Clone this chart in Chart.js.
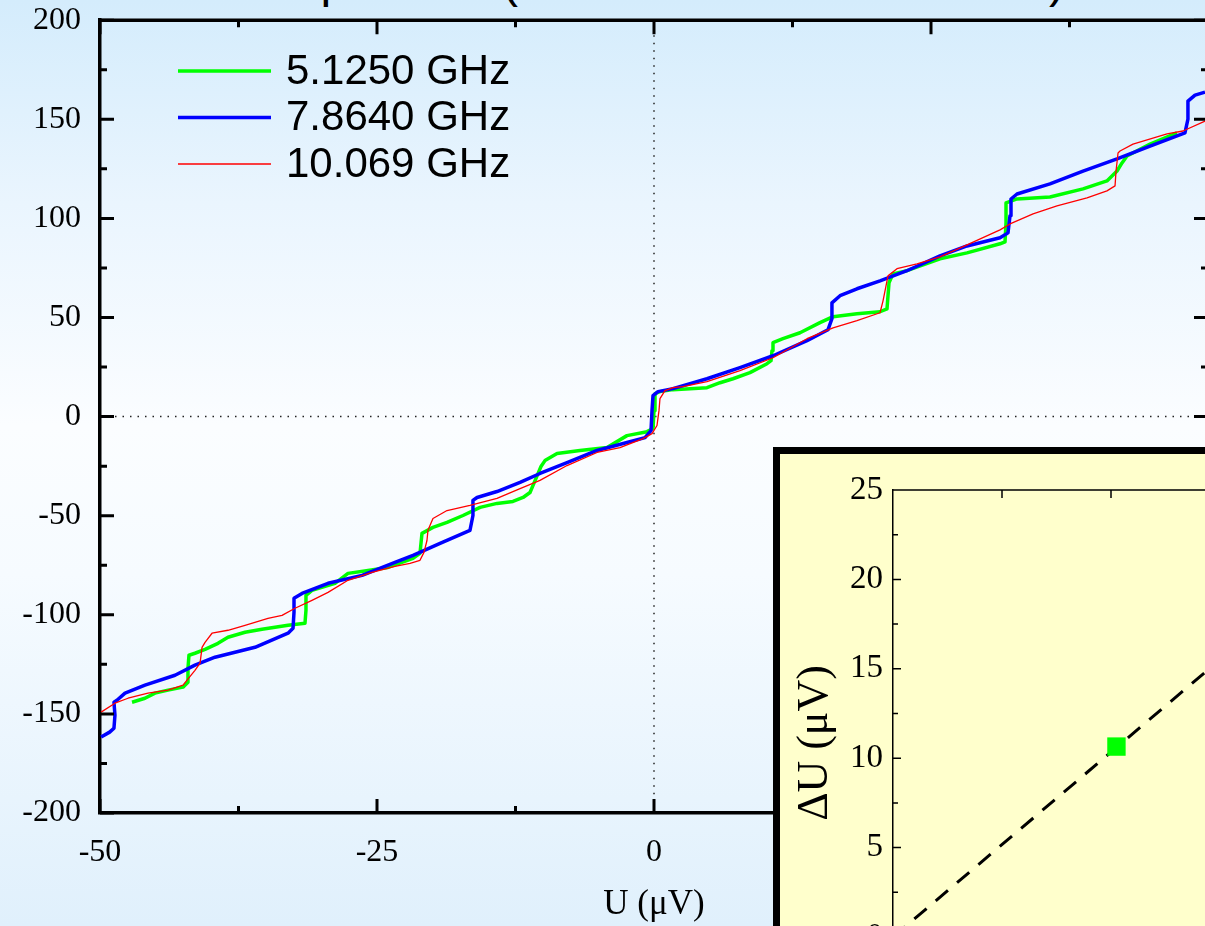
<!DOCTYPE html>
<html>
<head>
<title>Shapiro steps</title>
<script src="https://cdn.jsdelivr.net/npm/chart.js"></script>
<style>
  html, body { margin: 0; padding: 0; }
  body {
    width: 1205px; height: 926px; overflow: hidden; position: relative;
    background: linear-gradient(to bottom, #d4ecfc 0%, #eaf5fe 22%, #fbfdff 46%, #f6fbff 62%, #e0f0fc 100%);
  }
  #main { position: absolute; left: 0; top: -18px; }
  #title {
    position: absolute; right: 140px; top: -43px;
    font: 48px "Liberation Sans", Arial, sans-serif; line-height: 48px;
    white-space: nowrap; color: #000;
  }
  #insetBox {
    position: absolute; left: 773px; top: 447px; width: 700px; height: 600px;
    border: 7px solid #000; background: #ffffcc;
  }
</style>
</head>
<body>
<div id="title">Dipendenza dalla frequenza f (Emissione 5 and 10 GHz)</div>
<canvas id="main" width="1244" height="944"></canvas>
<div id="insetBox"><canvas id="inset" width="700" height="600"></canvas></div>
<script>
// I-V curves, U in microvolt, I in arbitrary units
const labels = ['5.1250 GHz', '7.8640 GHz', '10.069 GHz'];

const uGreen = [-47.11,-45.94,-45.04,-43.86,-42.51,-42.06,-42.06,-41.97,-41.43,-40.52,-39.35,-38.45,-36.91,-35.38,-33.03,-31.50,-31.41,-31.41,-30.87,-28.79,-27.62,-25.81,-24.01,-21.75,-21.12,-21.03,-20.94,-19.95,-18.68,-17.24,-15.70,-14.17,-12.73,-11.82,-11.19,-10.65,-10.20,-9.84,-8.75,-6.68,-4.24,-2.44,-0.63,-0.09,0.00,0.09,0.54,1.71,4.78,5.96,7.13,8.66,10.20,10.56,10.65,10.74,11.64,13.18,14.98,16.16,18.32,20.40,21.03,21.12,21.21,21.57,22.83,25.81,28.25,31.23,31.68,31.77,31.77,32.76,35.74,38.72,40.88,41.79,42.24,42.69,44.77,47.20];
const iGreen = [-144.1,-142.1,-139.5,-138.0,-136.5,-134.0,-127.0,-120.4,-119.4,-117.4,-114.4,-111.3,-108.8,-107.3,-105.3,-104.3,-97.7,-90.2,-87.7,-84.1,-79.1,-77.6,-76.1,-71.5,-69.0,-64.0,-58.9,-55.9,-53.4,-49.9,-45.8,-43.8,-42.8,-40.8,-38.3,-31.2,-25.2,-22.2,-18.6,-17.1,-15.6,-9.6,-7.6,-6.0,3.0,11.6,12.6,13.6,14.6,17.1,19.1,22.2,26.7,28.2,33.2,37.3,39.3,42.3,47.4,50.4,51.9,52.9,54.4,61.0,67.5,72.0,73.6,79.6,82.6,87.2,88.2,97.7,107.8,109.8,110.8,114.9,118.9,123.9,128.0,131.5,137.5,143.1];

const uBlue = [-49.9,-49.13,-48.74,-48.65,-48.74,-48.47,-47.74,-45.94,-43.23,-41.43,-39.62,-36.01,-33.03,-32.58,-32.49,-32.49,-31.77,-29.42,-26.35,-23.38,-21.75,-19.31,-16.61,-16.34,-16.34,-15.97,-14.17,-12.09,-10.29,-7.85,-5.14,-2.44,-0.81,-0.27,-0.18,-0.09,0.36,1.71,4.78,7.76,10.74,13.81,15.70,16.06,16.06,16.79,18.32,20.40,22.83,25.81,28.25,31.23,31.95,32.13,32.22,32.76,35.74,38.72,41.79,44.77,47.92,48.19,48.19,48.83,49.73];
const iBlue = [-161.7,-159.2,-157.2,-150.6,-144.1,-143.1,-139.5,-135.5,-130.5,-125.4,-121.4,-116.4,-109.3,-106.8,-98.7,-91.7,-89.2,-84.1,-80.1,-73.6,-70.0,-64.0,-57.4,-49.9,-42.3,-40.8,-37.8,-33.2,-28.7,-23.2,-17.1,-13.1,-10.6,-7.1,3.0,10.6,12.6,14.1,19.1,24.7,30.7,38.3,43.8,49.4,57.4,61.0,64.5,68.5,73.6,81.1,86.1,90.2,92.7,101.3,109.8,112.3,117.4,123.9,130.0,136.5,143.1,150.1,159.2,162.2,163.7];

const uRed = [-49.9,-48.65,-47.47,-45.67,-43.86,-42.51,-41.43,-40.97,-40.79,-40.52,-39.89,-38.45,-36.91,-34.84,-33.57,-32.40,-30.87,-29.42,-27.62,-25.45,-23.38,-22.02,-21.12,-20.76,-20.49,-20.40,-19.95,-18.68,-16.61,-14.17,-12.09,-10.29,-7.85,-5.14,-3.07,-0.99,-0.18,0.27,0.45,0.54,0.99,1.71,2.62,4.78,7.76,10.74,13.81,16.16,18.32,20.40,20.67,20.94,21.12,21.93,23.74,25.81,28.25,31.23,32.13,34.21,36.37,39.08,40.88,41.61,41.70,41.88,42.06,43.23,46.30,47.74,49.73];
const iRed = [-149.1,-144.6,-142.1,-139.5,-138.0,-135.5,-128.0,-124.4,-116.4,-113.9,-109.3,-107.8,-105.3,-101.8,-100.3,-96.7,-92.7,-88.7,-82.6,-78.6,-75.6,-74.1,-72.5,-68.5,-62.5,-57.4,-51.4,-47.4,-44.8,-41.3,-36.3,-32.2,-24.7,-18.1,-15.6,-11.1,-8.6,-4.5,3.0,9.1,13.1,14.6,15.1,17.6,23.2,29.7,39.3,44.8,48.4,52.4,58.4,66.0,71.0,74.6,77.1,80.6,86.6,94.2,97.2,102.3,106.3,110.3,113.9,116.4,123.9,133.0,134.0,137.5,142.6,144.1,149.1];

// inset: step width vs frequency
const freqs = [5.125, 7.864, 10.069];
const stepWidth = [10.65, 16.3, 20.8];
const fitF = [0, 12.5];
const fitU = [0, 25.85];

const colors = ['#00ff00', '#0000ff', '#ff0000'];

function pts(xs, ys) { return xs.map((v, i) => ({x: v, y: ys[i]})); }
const serif = '"Liberation Serif", "Times New Roman", serif';

const mainDecor = {
  id: 'mainDecor',
  beforeDatasetsDraw(chart) {
    const {ctx, chartArea: a, scales: {x, y}} = chart;
    const x0 = x.getPixelForValue(0), y0 = y.getPixelForValue(0);
    ctx.save();
    ctx.strokeStyle = '#222';
    ctx.lineWidth = 1.5;
    ctx.setLineDash([1.5, 6]);
    ctx.beginPath();
    ctx.moveTo(x0, a.top); ctx.lineTo(x0, a.bottom);
    ctx.moveTo(a.left, y0); ctx.lineTo(a.right, y0);
    ctx.stroke();
    ctx.restore();
  },
  afterDraw(chart) {
    const {ctx, chartArea: a, scales: {x, y}} = chart;
    ctx.save();
    ctx.strokeStyle = '#000';
    ctx.lineWidth = 3.5;
    ctx.beginPath();
    ctx.moveTo(a.left, a.top); ctx.lineTo(a.right, a.top); ctx.lineTo(a.right, a.bottom);
    ctx.stroke();
    ctx.lineWidth = 3;
    ctx.beginPath();
    for (let v = -50; v <= 50; v += 12.5) {
      const px = x.getPixelForValue(v), len = v % 25 === 0 ? 14 : 7;
      ctx.moveTo(px, a.bottom); ctx.lineTo(px, a.bottom - len);
      ctx.moveTo(px, a.top); ctx.lineTo(px, a.top + len);
    }
    for (let v = -200; v <= 200; v += 25) {
      const py = y.getPixelForValue(v), len = v % 50 === 0 ? 14 : 7;
      ctx.moveTo(a.left, py); ctx.lineTo(a.left + len, py);
      ctx.moveTo(a.right, py); ctx.lineTo(a.right - len, py);
    }
    ctx.stroke();
    // legend (canvas is shifted up by 18px)
    ctx.font = '42px "Liberation Sans", Arial, sans-serif';
    ctx.textBaseline = 'middle';
    ctx.fillStyle = '#000';
    chart.data.datasets.forEach((ds, i) => {
      const ly = 89 + i * 46.5;
      ctx.strokeStyle = ds.borderColor;
      ctx.lineWidth = ds.borderWidth;
      ctx.beginPath(); ctx.moveTo(178, ly); ctx.lineTo(271, ly); ctx.stroke();
      ctx.fillText(ds.label, 286, ly + 1);
    });
    ctx.restore();
  }
};

new Chart(document.getElementById('main'), {
  type: 'scatter',
  data: {
    datasets: [
      {label: labels[0], data: pts(uGreen, iGreen), borderColor: colors[0], borderWidth: 3.5, order: 3},
      {label: labels[1], data: pts(uBlue, iBlue), borderColor: colors[1], borderWidth: 3.5, order: 2},
      {label: labels[2], data: pts(uRed, iRed), borderColor: colors[2], borderWidth: 1.3, order: 1}
    ].map(d => Object.assign(d, {showLine: true, pointRadius: 0, tension: 0, borderJoinStyle: 'round'}))
  },
  options: {
    responsive: false,
    animation: false,
    devicePixelRatio: 1,
    layout: {padding: {top: 2, right: 10, left: 0, bottom: 0}},
    plugins: {legend: {display: false}, tooltip: {enabled: false}},
    scales: {
      x: {
        min: -50, max: 50,
        afterFit: s => { s.height = 113; },
        grid: {display: false, drawTicks: false},
        border: {display: true, color: '#000', width: 3.5},
        ticks: {stepSize: 25, color: '#000', padding: 20, font: {family: serif, size: 32}},
        title: {display: true, text: 'U (μV)', color: '#000', padding: {top: 0, bottom: 0}, font: {family: serif, size: 35}}
      },
      y: {
        min: -200, max: 200,
        afterFit: s => { s.width = 100; },
        grid: {display: false, drawTicks: false},
        border: {display: true, color: '#000', width: 3.5},
        ticks: {stepSize: 50, color: '#000', padding: 19, font: {family: serif, size: 32}}
      }
    }
  },
  plugins: [mainDecor]
});

const insetDecor = {
  id: 'insetDecor',
  afterDraw(chart) {
    const {ctx, chartArea: a, scales: {x, y}} = chart;
    ctx.save();
    ctx.strokeStyle = '#000';
    ctx.lineWidth = 1.5;
    ctx.beginPath();
    ctx.moveTo(a.left, a.top); ctx.lineTo(a.right, a.top);
    for (let v = 2.5; v <= 12.5; v += 2.5) {
      const px = x.getPixelForValue(v);
      ctx.moveTo(px, a.top); ctx.lineTo(px, a.top + 8);
    }
    for (let v = 0; v <= 25; v += 2.5) {
      const py = y.getPixelForValue(v), len = v % 5 === 0 ? 8 : 5;
      ctx.moveTo(a.left, py); ctx.lineTo(a.left + len, py);
    }
    ctx.stroke();
    ctx.fillStyle = '#000';
    ctx.font = '44px ' + serif;
    ctx.textAlign = 'center';
    ctx.textBaseline = 'middle';
    ctx.translate(35, 289);
    ctx.rotate(-Math.PI / 2);
    ctx.fillText('ΔU (μV)', 0, 0);
    ctx.restore();
  }
};

new Chart(document.getElementById('inset'), {
  type: 'scatter',
  data: {
    datasets: [
      {data: pts(freqs, stepWidth), pointStyle: 'rect', pointRadius: 13, pointBackgroundColor: colors, pointBorderWidth: 0, showLine: false},
      {data: pts(fitF, fitU), showLine: true, pointRadius: 0, borderColor: '#000', borderWidth: 3, borderDash: [16, 12]}
    ]
  },
  options: {
    responsive: false,
    animation: false,
    devicePixelRatio: 1,
    layout: {padding: {top: 36, right: 42, left: 0, bottom: 0}},
    plugins: {legend: {display: false}, tooltip: {enabled: false}},
    scales: {
      x: {
        min: 0, max: 12.5,
        afterFit: s => { s.height = 117; },
        grid: {display: false, drawTicks: false},
        border: {display: true, color: '#000', width: 1.5},
        ticks: {stepSize: 2.5, color: '#000', padding: 10, font: {family: serif, size: 33}}
      },
      y: {
        min: 0, max: 25,
        afterFit: s => { s.width = 113; },
        grid: {display: false, drawTicks: false},
        border: {display: true, color: '#000', width: 1.5},
        ticks: {stepSize: 5, color: '#000', padding: 10, font: {family: serif, size: 33}}
      }
    }
  },
  plugins: [insetDecor]
});
</script>
</body>
</html>
